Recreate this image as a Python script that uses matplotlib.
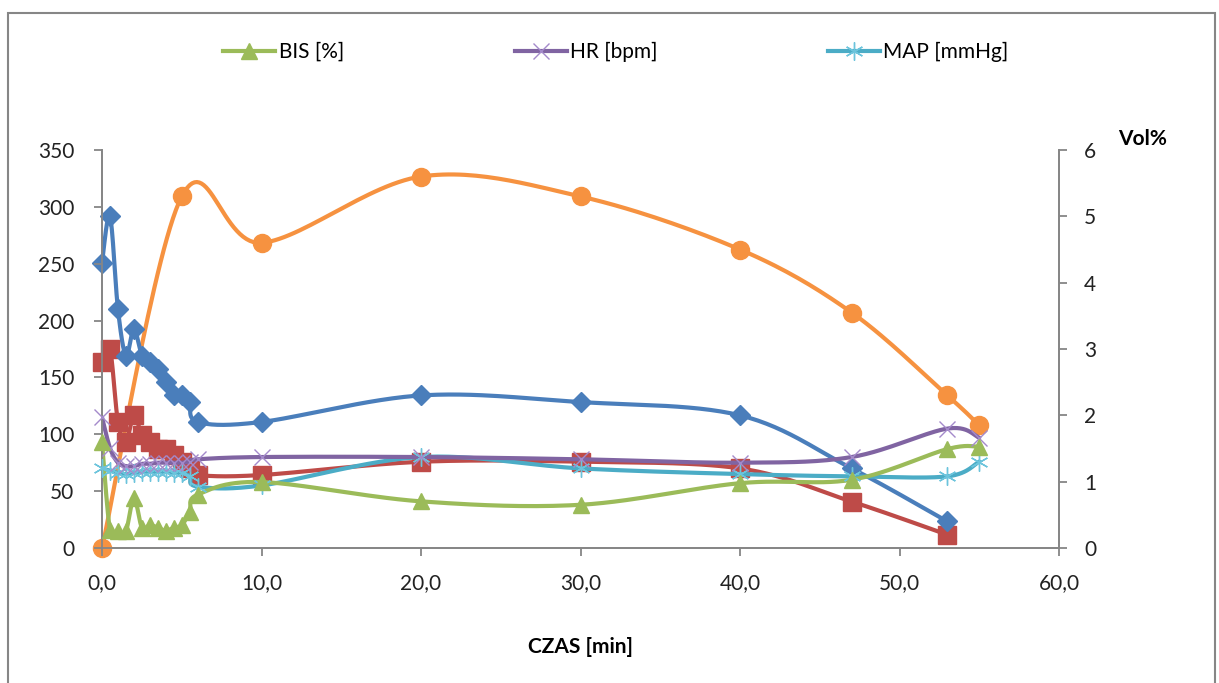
import numpy as np
import matplotlib
matplotlib.use("Agg")
import matplotlib.pyplot as plt
from matplotlib.patches import Rectangle
from matplotlib.ticker import FuncFormatter

plt.rcParams['font.family'] = ['Lato', 'DejaVu Sans']

# czas pomiarow [min]
t_early = [0, 0.5, 1, 1.5, 2, 2.5, 3, 3.5, 4, 4.5, 5, 5.5, 6]
t_late = [10, 20, 30, 40, 47, 53, 55]
t_all = t_early + t_late

# lewa os
bis = [93, 16, 15, 15, 44, 18, 20, 18, 15, 18, 20, 32, 47,
       58, 41, 38, 57, 60, 87, 89]
hr = [115, 88, 75, 72, 72, 74, 74, 75, 75, 75, 75, 76, 78,
      80, 80, 78, 75, 80, 105, 97]
mapp = [70, 68, 66, 65, 66, 67, 67, 67, 67, 66, 66, 63, 54,
        55, 80, 70, 65, 63, 63, 76]

# prawa os, Vol%
t_blue = t_early + [10, 20, 30, 40, 47, 53]
vol_blue = [4.3, 5.0, 3.6, 2.9, 3.3, 2.9, 2.8, 2.7, 2.5, 2.3, 2.3, 2.2, 1.9,
            1.9, 2.3, 2.2, 2.0, 1.2, 0.4]
t_red = t_early + [10, 20, 30, 40, 47, 53]
vol_red = [2.8, 3.0, 1.9, 1.6, 2.0, 1.7, 1.6, 1.5, 1.5, 1.4, 1.3, 1.2, 1.1,
           1.1, 1.3, 1.3, 1.2, 0.7, 0.2]
t_orange = [0, 5, 10, 20, 30, 40, 47, 53, 55]
vol_orange = [0, 5.3, 4.6, 5.6, 5.3, 4.5, 3.55, 2.3, 1.85]


def smooth(x, y, n=30):
    # wygladzanie jak w Excelu (krzywe Beziera, Catmull-Rom)
    p = np.column_stack([x, y]).astype(float)
    out = [p[0]]
    tt = np.linspace(0, 1, n)[1:, None]
    for i in range(len(p) - 1):
        p0 = p[i - 1] if i > 0 else p[i]
        p1, p2 = p[i], p[i + 1]
        p3 = p[i + 2] if i + 2 < len(p) else p[i + 1]
        c1 = p1 + (p2 - p0) / 6
        c2 = p2 - (p3 - p1) / 6
        seg = ((1 - tt) ** 3 * p1 + 3 * (1 - tt) ** 2 * tt * c1
               + 3 * (1 - tt) * tt ** 2 * c2 + tt ** 3 * p2)
        out.extend(seg)
    out = np.array(out)
    return out[:, 0], out[:, 1]


fig = plt.figure(figsize=(12.19, 6.83), dpi=100)
ax = fig.add_axes([102 / 1219, 1 - 548 / 683, 957 / 1219, 398 / 683])
ax2 = ax.twinx()

green = '#9BBB59'
purple = '#8064A2'
teal = '#4BACC6'
blue = '#4A7EBB'
red = '#BE4B48'
orange = '#F69240'


def draw(a, x, y, color, marker, ms, mew=1.0, mec=None, label=None):
    sx, sy = smooth(x, y)
    a.plot(sx, sy, color=color, lw=3, solid_capstyle='round', zorder=2)
    a.plot(x, y, ls='none', marker=marker, ms=ms, color=color,
           mec=mec if mec else color, mew=mew, zorder=3, clip_on=False)
    # wpis legendy
    if label:
        ax.plot([], [], color=color, lw=3, marker=marker, ms=ms,
                mec=mec if mec else color, mew=mew, label=label)


draw(ax2, t_orange, vol_orange, orange, 'o', 13)
draw(ax2, t_red, vol_red, red, 's', 12.5)
draw(ax2, t_blue, vol_blue, blue, 'D', 10)
draw(ax, t_all, mapp, teal, (6, 2, 0), 13, 1.0, '#6CC4DC', 'MAP [mmHg]')
draw(ax, t_all, hr, purple, 'x', 11, 1.0, '#A48ACB', 'HR [bpm]')
draw(ax, t_all, bis, green, '^', 11, label='BIS [%]')

ax.set_xlim(0, 60)
ax.set_ylim(0, 350)
ax2.set_ylim(0, 6)
ax.set_xticks(np.arange(0, 61, 10))
ax.set_yticks(np.arange(0, 351, 50))
ax2.set_yticks(range(7))
ax.xaxis.set_major_formatter(FuncFormatter(lambda v, p: f"{v:.1f}".replace('.', ',')))

for a in (ax, ax2):
    for s in a.spines.values():
        s.set_color('#868686')
        s.set_linewidth(1.3)
    a.spines['top'].set_visible(False)
    a.tick_params(colors='#868686', labelcolor='#222222', labelsize=15,
                  length=6, width=1.3)
ax.tick_params(axis='x', pad=12)
ax.tick_params(axis='y', pad=14)
ax2.tick_params(axis='y', pad=12)
ax.set_zorder(ax2.get_zorder() + 1)
ax.patch.set_visible(False)

ax.set_xlabel('CZAS [min]', fontsize=15, fontweight='bold', labelpad=32)
fig.text(1143 / 1219, 1 - 139 / 683, 'Vol%', fontsize=15, fontweight='bold',
         ha='center', va='center')

h, l = ax.get_legend_handles_labels()
order = [2, 1, 0]
fig.legend([h[i] for i in order], [l[i] for i in order], ncol=3,
           loc='center', bbox_to_anchor=(616 / 1219, 1 - 52 / 683),
           frameon=False, fontsize=15, columnspacing=8.2,
           handlelength=2.5, handletextpad=0.15)

fig.add_artist(Rectangle((8 / 1219, -0.02), 1207 / 1219, 1.02 - 13 / 683,
                         transform=fig.transFigure, fill=False,
                         edgecolor='#868686', lw=1.5))

fig.savefig('out.png', dpi=100)
